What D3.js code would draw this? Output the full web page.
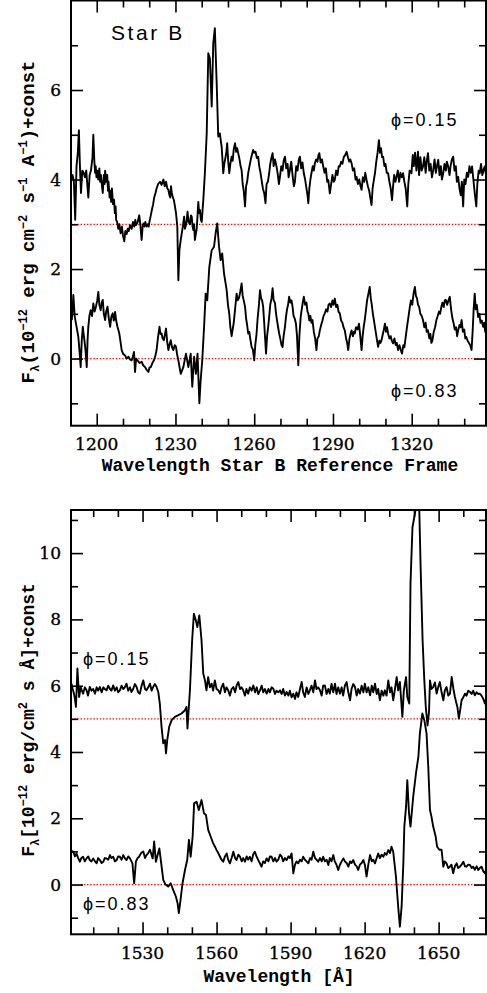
<!DOCTYPE html>
<html>
<head>
<meta charset="utf-8">
<script src="https://cdn.jsdelivr.net/npm/d3@7"></script>
<style>
  html, body { margin: 0; padding: 0; background: #fff; }
  svg { display: block; }
</style>
</head>
<body>
<svg id="chart" width="487" height="993"></svg>
<script>
// ---- Tick values --------------------------------------------------------
const topMajorX = [1200, 1230, 1260, 1290, 1320];
const topMinorX = [1210, 1220, 1240, 1250, 1270, 1280, 1300, 1310, 1330, 1340];
const topMajorY = [0, 2, 4, 6];
const topMinorY = [-1, 1, 3, 5, 7];
const botMajorX = [1530, 1560, 1590, 1620, 1650];
const botMinorX = [1510, 1520, 1540, 1550, 1570, 1580, 1600, 1610, 1630, 1640, 1660];
const botMajorY = [0, 2, 4, 6, 8, 10];
const botMinorY = [-1, 1, 3, 5, 7, 9, 11];

// zero levels of each offset spectrum (dotted red lines)
const topBaselines = [3, 0];
const botBaselines = [5, 0];

// ---- Spectra: [wavelength, flux + const] --------------------------------
// Star B, Lyα / N V region, phase 0.15 (shifted by +3)
const topPhase015 = [
  [1190.3,4.0],[1190.8,4.1],[1191.3,3.95],[1191.8,3.1],[1192.3,4.3],[1192.8,4.6],[1193.2,5.1],[1193.6,4.3],
  [1194.0,3.7],[1194.5,4.2],[1195.0,4.15],[1195.5,4.05],[1196.0,4.2],[1196.8,3.6],[1197.3,4.1],[1197.8,4.2],
  [1198.4,4.5],[1198.7,5.0],[1199.1,4.4],[1199.4,4.15],[1199.6,4.3],[1199.9,4.05],[1200.2,4.2],[1200.6,4.0],
  [1201.0,4.25],[1201.3,3.95],[1201.6,4.1],[1202.0,3.85],[1202.3,3.7],[1202.7,4.1],[1203.0,3.9],[1203.2,4.2],
  [1203.6,3.95],[1204.0,4.1],[1204.3,3.75],[1204.5,3.95],[1204.9,3.6],[1205.2,3.75],[1205.5,3.5],[1205.8,3.8],
  [1206.2,3.45],[1206.6,3.55],[1206.9,3.25],[1207.2,3.4],[1207.4,3.1],[1207.8,3.05],[1208.2,2.9],[1208.6,3.0],
  [1209.1,2.8],[1209.6,2.95],[1210.0,2.75],[1210.5,2.62],[1210.9,2.85],[1211.4,2.78],[1211.8,2.9],[1212.2,2.85],
  [1212.7,2.98],[1213.3,2.9],[1213.8,3.05],[1214.3,2.95],[1214.7,3.1],[1215.0,2.98],[1215.6,3.05],[1216.2,3.2],
  [1216.6,3.0],[1217.1,2.65],[1217.5,2.95],[1217.8,3.02],[1218.2,2.95],[1218.5,3.05],[1219.0,2.95],[1219.4,3.0],
  [1219.8,2.95],[1220.1,3.06],[1220.6,3.2],[1221.0,3.32],[1221.5,3.45],[1221.9,3.6],[1222.4,3.7],[1222.8,3.8],
  [1223.4,3.9],[1224.1,3.95],[1224.7,3.88],[1225.4,4.0],[1225.9,3.85],[1226.4,3.95],[1226.9,3.8],[1227.3,3.77],
  [1227.7,3.65],[1228.0,3.6],[1228.3,3.85],[1228.6,3.7],[1229.0,3.6],[1229.4,3.54],[1229.8,3.4],[1230.2,3.25],
  [1230.7,2.95],[1231.1,1.75],[1231.5,2.42],[1232.0,2.65],[1232.4,2.8],[1232.8,2.95],[1233.3,3.17],[1233.6,2.9],
  [1234.0,2.98],[1234.3,3.1],[1234.6,3.28],[1235.0,3.05],[1235.5,3.0],[1235.9,3.2],[1236.2,3.17],[1236.5,2.95],
  [1236.8,2.87],[1237.1,3.0],[1237.4,2.65],[1237.8,2.8],[1238.1,2.9],[1238.4,3.2],[1238.7,3.5],[1239.0,3.25],
  [1239.3,3.32],[1239.7,3.1],[1240.0,3.05],[1240.3,3.3],[1240.6,3.54],[1241.2,4.14],[1241.9,5.03],[1242.5,6.82],
  [1243.1,6.71],[1243.8,5.63],[1244.4,7.05],[1245.0,7.38],[1245.7,6.15],[1246.3,4.96],[1246.9,5.03],[1247.3,4.85],
  [1247.6,4.73],[1247.9,4.45],[1248.2,4.14],[1248.6,4.35],[1249.1,4.51],[1249.4,4.62],[1249.7,4.81],[1250.1,4.4],
  [1250.5,4.14],[1250.9,4.35],[1251.4,4.51],[1251.8,4.42],[1252.2,4.68],[1252.7,4.81],[1253.1,4.62],[1253.5,4.7],
  [1253.9,4.59],[1254.4,4.45],[1254.8,4.3],[1255.2,4.21],[1255.6,3.9],[1256.0,3.75],[1256.5,3.4],[1256.9,3.85],
  [1257.3,3.95],[1257.7,4.14],[1258.2,4.3],[1258.7,4.45],[1259.1,4.55],[1259.6,4.66],[1260.0,4.6],[1260.5,4.62],
  [1261.0,4.48],[1261.5,4.51],[1261.9,4.3],[1262.4,4.15],[1262.8,3.99],[1263.3,3.8],[1263.8,3.7],[1264.3,3.47],
  [1264.7,3.9],[1265.2,3.95],[1265.7,4.14],[1266.1,4.35],[1266.6,4.5],[1267.0,4.59],[1267.4,4.3],[1267.9,4.45],
  [1268.5,4.29],[1268.9,4.15],[1269.4,3.9],[1269.8,4.06],[1270.3,4.3],[1270.8,4.2],[1271.2,4.42],[1271.7,4.51],
  [1272.2,4.25],[1272.7,4.35],[1273.1,4.05],[1273.6,4.21],[1274.1,4.4],[1274.6,4.1],[1275.1,3.85],[1275.5,3.95],
  [1276.0,4.3],[1276.5,4.2],[1277.0,4.45],[1277.4,4.51],[1277.9,4.25],[1278.4,4.38],[1278.9,4.14],[1279.4,4.0],
  [1279.9,3.8],[1280.3,3.65],[1280.6,3.47],[1281.0,3.8],[1281.4,4.0],[1281.8,4.14],[1282.3,4.3],[1282.7,4.2],
  [1283.1,4.36],[1283.6,4.45],[1284.1,4.4],[1284.5,4.55],[1284.8,4.59],[1285.3,4.38],[1285.8,4.45],[1286.3,4.29],
  [1286.8,4.15],[1287.3,4.25],[1287.8,3.95],[1288.2,3.99],[1288.5,3.85],[1288.8,3.69],[1289.3,3.9],[1289.8,4.1],
  [1290.3,3.95],[1290.7,3.99],[1291.2,4.2],[1291.7,4.1],[1292.2,4.3],[1292.6,4.29],[1293.1,4.4],[1293.6,4.35],
  [1294.1,4.5],[1294.7,4.55],[1295.2,4.62],[1295.7,4.5],[1296.2,4.4],[1296.6,4.45],[1297.1,4.36],[1297.6,4.2],
  [1298.1,4.25],[1298.6,4.0],[1299.0,4.06],[1299.5,3.9],[1300.0,4.0],[1300.5,3.85],[1300.9,3.77],[1301.4,4.05],
  [1301.9,3.95],[1302.3,4.15],[1302.8,3.99],[1303.3,3.85],[1303.8,3.75],[1304.2,3.6],[1304.7,3.43],[1305.1,3.8],
  [1305.6,4.0],[1306.0,4.14],[1306.5,4.4],[1307.0,4.6],[1307.5,4.88],[1307.9,4.6],[1308.3,4.7],[1308.7,4.5],
  [1309.1,4.51],[1309.6,4.3],[1310.0,4.35],[1310.5,4.15],[1311.0,4.14],[1311.5,3.95],[1312.0,3.8],[1312.5,3.54],
  [1312.9,3.85],[1313.3,4.1],[1313.8,3.95],[1314.2,4.06],[1314.7,4.2],[1315.2,3.95],[1315.7,4.15],[1316.2,4.05],
  [1316.7,4.14],[1317.2,3.95],[1317.7,3.8],[1318.3,3.4],[1318.7,3.9],[1319.2,4.2],[1319.9,4.14],[1320.4,4.55],
  [1320.8,4.3],[1321.3,4.6],[1321.8,4.2],[1322.4,4.62],[1322.8,4.1],[1323.3,4.5],[1323.8,4.2],[1324.3,4.29],
  [1324.8,4.5],[1325.3,4.15],[1325.7,4.4],[1326.2,4.59],[1326.7,4.2],[1327.2,4.35],[1327.7,4.05],[1328.2,4.21],
  [1328.7,4.45],[1329.2,4.15],[1329.6,4.3],[1330.1,4.44],[1330.6,4.1],[1331.1,4.3],[1331.5,4.0],[1332.0,4.14],
  [1332.5,4.35],[1333.0,4.2],[1333.4,4.4],[1333.9,4.29],[1334.4,4.1],[1334.8,4.3],[1335.3,4.45],[1335.8,4.51],
  [1336.3,4.2],[1336.8,4.3],[1337.2,3.95],[1337.7,4.06],[1338.2,3.8],[1338.7,3.65],[1339.1,3.95],[1339.6,3.4],
  [1340.0,4.0],[1340.5,3.9],[1341.0,4.15],[1341.5,4.06],[1342.0,4.3],[1342.5,4.15],[1343.0,4.29],[1343.5,4.0],
  [1344.0,3.7],[1344.6,3.4],[1345.0,3.9],[1345.5,4.2],[1345.9,4.14],[1346.4,4.35],[1346.9,4.1],[1347.3,4.2],
  [1347.8,4.29],[1348.3,4.1]
];

// Star B, Lyα / N V region, phase 0.83
const topPhase083 = [
  [1190.5,0.86],[1190.8,1.1],[1191.1,1.42],[1191.6,0.95],[1192.1,0.78],[1192.5,0.65],[1193.0,0.48],[1193.4,0.2],
  [1193.9,-0.19],[1194.3,0.4],[1194.7,0.71],[1195.0,0.55],[1195.3,0.41],[1195.7,0.2],[1196.2,-0.19],[1196.5,0.4],
  [1196.8,0.71],[1197.2,0.95],[1197.7,1.08],[1198.2,0.95],[1198.7,1.23],[1199.2,1.05],[1199.7,1.16],[1200.2,1.3],
  [1200.6,1.49],[1201.0,1.2],[1201.5,1.08],[1201.9,1.25],[1202.3,1.31],[1202.7,1.0],[1203.2,0.86],[1203.6,1.05],
  [1204.1,1.16],[1204.6,0.9],[1205.1,0.71],[1205.6,0.95],[1206.1,1.01],[1206.5,0.85],[1207.0,1.04],[1207.4,0.85],
  [1207.9,0.71],[1208.2,0.65],[1208.6,0.56],[1209.0,0.4],[1209.5,0.19],[1210.1,0.1],[1210.8,0.07],[1211.4,0.0],
  [1212.1,0.04],[1212.7,-0.02],[1213.3,-0.04],[1213.8,0.05],[1214.2,0.15],[1214.6,-0.3],[1215.0,0.0],[1215.5,-0.04],
  [1216.3,-0.1],[1217.1,-0.07],[1217.7,-0.15],[1218.4,-0.19],[1219.0,-0.25],[1219.7,-0.3],[1220.1,-0.2],[1220.6,-0.19],
  [1221.2,-0.1],[1221.8,-0.04],[1222.3,0.05],[1222.8,0.19],[1223.3,0.45],[1223.9,0.71],[1224.3,0.55],[1224.7,0.56],
  [1225.1,0.45],[1225.6,0.41],[1226.0,0.55],[1226.4,0.67],[1226.8,0.4],[1227.3,0.19],[1227.7,0.3],[1228.2,0.41],
  [1228.7,0.25],[1229.2,0.19],[1229.7,0.3],[1230.2,0.26],[1230.6,0.1],[1231.1,-0.04],[1232.0,-0.34],[1233.0,-0.19],
  [1234.0,0.11],[1234.9,-0.19],[1235.8,0.11],[1236.4,-0.63],[1237.1,0.04],[1237.8,-0.34],[1238.4,0.11],[1239.1,-1.0],
  [1239.6,-0.48],[1240.2,-0.04],[1240.9,0.71],[1241.5,1.45],[1242.1,1.3],[1242.9,2.05],[1243.8,2.42],[1244.7,2.5],
  [1245.3,2.8],[1245.9,3.02],[1246.6,2.5],[1247.2,2.2],[1247.8,2.35],[1248.5,1.9],[1249.5,1.53],[1250.0,1.2],
  [1250.5,1.0],[1250.9,0.7],[1251.4,0.5],[1251.8,0.65],[1252.2,0.8],[1252.7,1.1],[1253.3,1.45],[1253.7,1.3],
  [1254.2,1.35],[1254.7,1.5],[1255.2,1.68],[1255.6,1.4],[1256.0,1.3],[1256.5,1.16],[1256.9,0.9],[1257.3,0.75],
  [1257.7,0.56],[1258.1,0.6],[1258.6,0.4],[1259.0,0.26],[1259.5,0.2],[1260.0,-0.04],[1260.4,0.3],[1260.9,0.56],
  [1261.3,0.9],[1261.8,1.2],[1262.2,1.53],[1262.6,1.35],[1263.0,1.3],[1263.4,1.16],[1263.8,0.8],[1264.1,0.5],
  [1264.5,0.11],[1264.9,0.5],[1265.3,0.7],[1265.7,0.93],[1266.1,1.2],[1266.6,1.35],[1267.0,1.57],[1267.4,1.3],
  [1267.9,1.25],[1268.3,1.01],[1268.7,0.85],[1269.1,0.7],[1269.5,0.56],[1269.9,0.45],[1270.4,0.3],[1270.8,0.26],
  [1271.2,0.5],[1271.7,0.7],[1272.1,0.93],[1272.5,1.1],[1272.9,1.2],[1273.3,1.38],[1273.8,1.25],[1274.2,1.3],
  [1274.6,1.16],[1275.0,0.95],[1275.4,0.9],[1275.9,0.78],[1276.3,0.5],[1276.8,-0.15],[1277.2,0.5],[1277.7,0.93],
  [1278.1,1.1],[1278.5,1.25],[1278.9,1.38],[1279.4,1.2],[1279.9,1.25],[1280.3,1.05],[1280.6,1.01],[1281.0,0.85],
  [1281.4,0.95],[1281.8,0.8],[1282.2,0.86],[1282.7,0.6],[1283.2,0.45],[1283.7,0.19],[1284.1,0.45],[1284.6,0.5],
  [1285.0,0.63],[1285.5,0.75],[1286.0,0.85],[1286.4,0.95],[1286.9,1.01],[1287.4,1.1],[1287.9,1.05],[1288.3,1.2],
  [1288.8,1.23],[1289.3,1.15],[1289.8,1.3],[1290.2,1.2],[1290.7,1.34],[1291.2,1.15],[1291.7,1.2],[1292.1,1.05],
  [1292.6,1.01],[1293.1,0.85],[1293.6,0.8],[1294.0,0.7],[1294.5,0.63],[1295.0,0.45],[1295.4,0.35],[1295.8,0.19],
  [1296.3,0.45],[1296.7,0.55],[1297.1,0.63],[1297.6,0.5],[1298.0,0.6],[1298.3,0.56],[1298.8,0.7],[1299.4,0.65],
  [1299.9,0.78],[1300.4,0.5],[1300.9,0.19],[1301.3,0.5],[1301.7,0.7],[1302.1,0.86],[1302.6,1.1],[1303.0,1.3],
  [1303.5,1.45],[1304.0,1.6],[1304.4,1.35],[1304.8,1.2],[1305.2,1.0],[1305.6,0.86],[1306.0,0.7],[1306.4,0.55],
  [1306.8,0.4],[1307.2,0.26],[1307.7,0.4],[1308.1,0.35],[1308.5,0.41],[1309.0,0.55],[1309.4,0.65],[1309.8,0.78],
  [1310.2,0.6],[1310.6,0.7],[1311.0,0.56],[1311.5,0.45],[1312.0,0.5],[1312.4,0.4],[1312.9,0.34],[1313.4,0.45],
  [1313.9,0.3],[1314.3,0.35],[1314.8,0.19],[1315.3,0.3],[1315.8,0.2],[1316.3,0.11],[1316.8,0.3],[1317.2,0.25],
  [1317.7,0.48],[1318.2,0.7],[1318.8,0.95],[1319.3,1.16],[1319.7,1.3],[1320.2,1.2],[1320.7,1.45],[1321.2,1.6],
  [1321.6,1.4],[1322.0,1.35],[1322.4,1.2],[1322.8,1.16],[1323.3,1.0],[1323.8,0.95],[1324.3,0.86],[1324.8,0.7],
  [1325.3,0.8],[1325.7,0.6],[1326.2,0.63],[1326.7,0.45],[1327.1,0.55],[1327.5,0.35],[1327.9,0.41],[1328.4,0.6],
  [1328.9,0.7],[1329.4,0.86],[1329.9,0.95],[1330.4,1.05],[1330.8,1.0],[1331.3,1.16],[1331.7,1.25],[1332.2,1.15],
  [1332.6,1.3],[1333.0,1.31],[1333.5,1.2],[1334.0,1.3],[1334.5,1.38],[1335.0,1.1],[1335.5,0.9],[1336.0,0.78],
  [1336.4,0.65],[1336.9,0.7],[1337.3,0.5],[1337.7,0.63],[1338.2,0.75],[1338.6,0.7],[1339.0,0.86],[1339.5,0.6],
  [1340.0,0.65],[1340.4,0.45],[1340.8,0.48],[1341.3,0.4],[1341.8,0.35],[1342.3,0.3],[1342.8,0.19],[1343.2,0.6],
  [1343.6,1.1],[1344.0,1.45],[1344.4,1.1],[1344.8,1.2],[1345.3,0.93],[1345.8,1.0],[1346.2,0.8],[1346.7,0.85],
  [1347.2,0.71],[1347.6,0.8],[1348.0,0.6],[1348.4,0.56]
];

// C IV / He II region, phase 0.15 (shifted by +5)
const botPhase015 = [
  [1501.2,6.06],[1501.7,5.9],[1502.2,5.76],[1502.6,5.6],[1503.0,5.36],[1503.3,5.9],[1503.6,6.52],[1504.0,6.0],
  [1504.3,5.66],[1504.6,5.8],[1504.9,5.96],[1505.4,5.85],[1505.9,5.76],[1506.6,5.95],[1507.3,5.86],[1507.9,5.7],
  [1508.6,5.96],[1509.3,5.85],[1510.0,5.9],[1510.7,5.76],[1511.4,5.95],[1512.0,5.85],[1512.7,5.96],[1513.4,5.8],
  [1514.1,5.95],[1514.7,5.9],[1515.4,5.86],[1516.1,6.0],[1516.8,5.9],[1517.4,5.85],[1518.1,6.01],[1518.8,5.85],
  [1519.5,5.95],[1520.1,5.8],[1520.8,5.86],[1521.5,6.0],[1522.2,5.9],[1522.8,5.95],[1523.5,6.06],[1524.2,5.85],
  [1524.9,5.95],[1525.5,5.81],[1526.2,5.9],[1526.9,6.05],[1527.6,5.96],[1528.2,5.8],[1528.9,5.76],[1529.6,6.0],
  [1530.3,6.16],[1531.0,5.9],[1531.6,5.86],[1532.3,5.95],[1533.0,6.06],[1533.7,5.85],[1534.3,5.96],[1535.0,6.05],
  [1535.7,5.96],[1536.4,5.8],[1537.0,5.46],[1537.7,4.76],[1538.4,4.26],[1539.1,4.36],[1539.5,3.96],[1540.0,4.36],
  [1540.8,4.76],[1541.8,4.96],[1543.1,5.06],[1544.5,5.11],[1545.8,5.16],[1547.2,5.26],[1547.8,5.36],[1548.2,4.71],
  [1549.2,5.86],[1550.1,7.37],[1550.8,8.17],[1551.6,7.97],[1552.2,7.77],[1553.0,8.12],[1553.9,7.37],[1554.6,6.37],
  [1555.3,6.16],[1555.9,5.86],[1556.6,6.26],[1557.3,5.95],[1558.0,6.06],[1558.6,5.85],[1559.3,6.16],[1560.0,5.9],
  [1560.7,5.86],[1561.4,5.76],[1562.0,5.95],[1562.7,6.06],[1563.4,5.8],[1564.0,5.95],[1564.7,5.86],[1565.4,5.7],
  [1566.1,5.9],[1566.8,5.96],[1567.5,5.8],[1568.1,6.0],[1568.8,6.11],[1569.5,5.9],[1570.1,5.95],[1570.8,5.86],
  [1571.5,5.7],[1572.1,5.9],[1572.8,5.76],[1573.5,5.95],[1574.2,5.85],[1574.9,6.01],[1575.6,5.8],[1576.3,5.95],
  [1576.9,5.75],[1577.6,5.86],[1578.3,6.0],[1578.9,5.8],[1579.6,5.9],[1580.3,5.76],[1581.0,5.9],[1581.6,5.8],
  [1582.3,5.95],[1583.0,5.91],[1583.7,5.75],[1584.3,5.85],[1585.0,5.8],[1585.7,5.86],[1586.4,5.75],[1587.0,5.9],
  [1587.7,5.7],[1588.4,5.81],[1589.1,5.7],[1589.7,5.85],[1590.4,5.65],[1591.1,5.76],[1591.8,5.6],[1592.4,5.8],
  [1593.1,5.66],[1593.8,5.9],[1594.5,6.11],[1595.1,5.8],[1595.8,5.66],[1596.5,5.95],[1597.2,5.75],[1597.8,5.86],
  [1598.5,6.0],[1599.2,5.8],[1599.9,6.16],[1600.5,5.9],[1601.2,5.95],[1601.9,5.86],[1602.6,5.7],[1603.2,6.0],
  [1603.9,6.01],[1604.6,5.75],[1605.3,5.9],[1605.9,5.76],[1606.6,6.05],[1607.3,5.8],[1608.0,6.06],[1608.6,5.75],
  [1609.3,5.95],[1610.0,5.76],[1610.7,5.95],[1611.3,5.7],[1612.0,6.0],[1612.7,6.11],[1613.4,5.8],[1614.1,5.56],
  [1614.7,5.9],[1615.4,6.05],[1616.1,5.96],[1616.8,5.7],[1617.4,5.9],[1618.1,5.76],[1618.8,6.0],[1619.5,5.8],
  [1620.1,6.06],[1620.8,5.8],[1621.5,5.95],[1622.2,5.71],[1622.9,6.0],[1623.5,5.8],[1624.2,6.06],[1624.9,5.75],
  [1625.5,5.9],[1626.2,5.56],[1626.9,5.85],[1627.6,5.7],[1628.2,5.86],[1628.9,5.7],[1629.6,6.16],[1630.3,5.8],
  [1630.9,5.95],[1631.6,5.56],[1632.3,5.9],[1633.0,6.26],[1633.6,5.86],[1634.3,6.11],[1635.3,5.06],[1635.9,5.86],
  [1636.8,6.26],[1637.3,5.66],[1638.1,5.46],[1638.6,9.08],[1639.4,10.78],[1640.4,11.19],[1641.3,11.6],[1642.1,11.5],
  [1642.7,9.58],[1643.5,7.37],[1644.2,6.16],[1644.8,5.36],[1645.5,4.8],[1646.1,5.2],[1646.5,6.16],[1647.1,5.9],
  [1647.8,5.96],[1648.5,6.1],[1649.2,5.76],[1649.8,5.95],[1650.5,6.11],[1651.2,5.8],[1651.9,5.56],[1652.5,5.85],
  [1653.2,5.96],[1653.9,5.7],[1654.6,5.76],[1655.3,6.26],[1656.0,5.9],[1656.6,5.66],[1657.1,5.5],[1657.6,5.36],
  [1658.2,5.01],[1658.8,5.3],[1659.3,5.56],[1660.0,5.65],[1660.7,5.76],[1661.3,5.7],[1662.0,5.85],[1662.7,5.81],
  [1663.4,5.75],[1664.0,5.85],[1664.7,5.71],[1665.4,5.8],[1666.1,5.75],[1666.7,5.76],[1667.4,5.7],[1668.1,5.6],
  [1668.8,5.46],[1669.2,5.6]
];

// C IV / He II region, phase 0.83
const botPhase083 = [
  [1500.8,1.09],[1501.4,1.0],[1501.9,0.99],[1502.6,0.85],[1503.2,0.94],[1503.9,0.8],[1504.6,0.69],[1505.2,0.8],
  [1505.9,0.84],[1506.6,0.7],[1507.3,0.79],[1508.0,0.85],[1508.6,0.74],[1509.3,0.7],[1510.0,0.79],[1510.7,0.7],
  [1511.4,0.64],[1512.0,0.8],[1512.7,0.74],[1513.4,0.65],[1514.1,0.69],[1514.7,0.8],[1515.4,0.79],[1516.1,0.75],
  [1516.8,0.89],[1517.4,0.8],[1518.1,0.84],[1518.8,0.7],[1519.5,0.74],[1520.1,0.85],[1520.8,0.84],[1521.5,0.75],
  [1522.2,0.89],[1522.8,0.8],[1523.5,0.74],[1524.2,0.85],[1524.9,0.79],[1525.9,0.64],[1526.6,0.04],[1527.3,0.69],
  [1528.0,0.8],[1528.6,0.84],[1529.4,0.95],[1530.3,1.0],[1531.0,0.8],[1531.6,0.89],[1532.3,0.95],[1533.0,1.05],
  [1534.1,0.79],[1534.7,1.3],[1535.4,0.69],[1536.1,0.89],[1536.8,1.09],[1537.4,0.74],[1538.4,0.14],[1539.3,0.0],
  [1540.4,-0.06],[1541.4,0.04],[1542.4,-0.16],[1543.5,-0.36],[1544.2,-0.56],[1544.7,-0.86],[1545.4,-0.46],[1546.2,0.04],
  [1547.2,0.44],[1548.1,0.74],[1548.8,1.35],[1549.5,0.84],[1550.3,1.45],[1550.9,2.45],[1551.9,2.5],[1552.8,2.25],
  [1553.9,2.55],[1554.9,2.15],[1555.7,2.1],[1556.6,1.65],[1557.6,1.45],[1558.6,1.25],[1559.3,1.15],[1560.0,1.04],
  [1560.7,0.95],[1561.4,0.84],[1562.0,0.75],[1562.7,0.69],[1563.4,0.85],[1564.1,0.94],[1564.7,0.75],[1565.4,0.64],
  [1566.1,0.8],[1566.8,0.99],[1567.5,0.8],[1568.1,0.74],[1568.8,0.9],[1569.5,0.84],[1570.2,0.7],[1570.8,0.8],
  [1571.5,0.69],[1572.2,0.85],[1572.8,0.75],[1573.5,0.84],[1574.2,0.7],[1574.8,0.9],[1575.5,0.99],[1576.2,0.85],
  [1576.9,0.74],[1577.5,0.65],[1578.2,0.54],[1578.9,0.7],[1579.6,0.65],[1580.3,0.79],[1581.0,0.7],[1581.6,0.85],
  [1582.3,0.84],[1583.0,0.7],[1583.7,0.8],[1584.3,0.69],[1585.0,0.75],[1585.7,0.9],[1586.4,0.84],[1587.0,0.7],
  [1587.7,0.8],[1588.4,0.74],[1589.1,0.85],[1589.7,0.8],[1590.4,0.94],[1591.1,0.34],[1591.8,0.6],[1592.4,0.7],
  [1593.1,0.64],[1593.8,0.75],[1594.5,0.7],[1595.1,0.84],[1595.8,0.75],[1596.5,0.7],[1597.2,0.64],[1597.9,0.8],
  [1598.5,0.75],[1599.2,0.99],[1599.9,0.8],[1600.5,0.75],[1601.2,0.69],[1601.9,0.8],[1602.6,0.7],[1603.2,0.84],
  [1603.9,0.7],[1604.6,0.75],[1605.3,0.59],[1605.9,0.8],[1606.6,0.7],[1607.3,0.89],[1607.9,0.7],[1608.6,0.6],
  [1609.3,0.44],[1610.0,0.6],[1610.7,0.7],[1611.4,0.79],[1612.0,0.7],[1612.7,0.65],[1613.4,0.54],[1614.1,0.7],
  [1614.7,0.65],[1615.4,0.74],[1616.1,0.6],[1616.8,0.55],[1617.4,0.44],[1618.1,0.6],[1618.8,0.65],[1619.5,0.74],
  [1620.1,0.6],[1620.8,0.24],[1621.5,0.6],[1622.2,0.89],[1622.9,0.7],[1623.5,0.75],[1624.2,0.64],[1624.9,0.8],
  [1625.5,0.94],[1626.2,0.8],[1626.9,0.9],[1627.6,0.84],[1628.2,0.95],[1628.9,0.9],[1629.6,1.04],[1630.3,0.95],
  [1630.9,1.14],[1631.6,0.99],[1632.7,0.24],[1633.6,-0.66],[1634.3,-1.27],[1635.0,-0.66],[1635.7,0.64],[1636.1,1.75],
  [1636.8,2.35],[1637.3,3.15],[1638.0,2.15],[1638.6,1.75],[1639.7,2.65],[1640.8,3.35],[1641.8,3.86],[1642.4,4.56],
  [1643.4,5.16],[1644.2,4.96],[1645.1,4.56],[1645.8,3.55],[1646.5,2.25],[1647.1,2.05],[1647.8,1.75],[1648.8,1.45],
  [1649.4,1.14],[1650.3,1.05],[1651.2,1.05],[1651.9,0.54],[1652.5,0.7],[1653.2,0.64],[1653.9,0.5],[1654.6,0.54],
  [1655.2,0.6],[1655.9,0.34],[1656.6,0.55],[1657.3,0.64],[1657.9,0.5],[1658.6,0.54],[1659.3,0.6],[1660.0,0.69],
  [1660.7,0.55],[1661.3,0.54],[1662.0,0.6],[1662.7,0.59],[1663.4,0.5],[1664.0,0.54],[1664.7,0.45],[1665.4,0.55],
  [1666.1,0.44],[1666.7,0.5],[1667.4,0.54],[1668.1,0.4],[1668.8,0.34],[1669.2,0.45]
];

// ---- Drawing ------------------------------------------------------------
const svg = d3.select("#chart");
svg.append("rect").attr("width", 487).attr("height", 993).attr("fill", "#fff");

const SERIF = "'DejaVu Serif', serif";
const MONO = "'Liberation Mono', monospace";
const SANS = "'Liberation Sans', Arial, sans-serif";

function drawPanel(cfg) {
  const x = d3.scaleLinear().domain(cfg.xDomain).range([cfg.left, cfg.right]);
  const y = d3.scaleLinear().domain(cfg.yDomain).range([cfg.bottom, cfg.top]);
  const g = svg.append("g");

  const clipId = "clip-" + cfg.id;
  svg.append("clipPath").attr("id", clipId)
    .append("rect")
    .attr("x", cfg.left).attr("y", cfg.top)
    .attr("width", cfg.right - cfg.left).attr("height", cfg.bottom - cfg.top);

  // dotted zero levels
  g.selectAll("line.base").data(cfg.baselines).join("line")
    .attr("class", "base")
    .attr("x1", cfg.left).attr("x2", cfg.right)
    .attr("y1", d => y(d)).attr("y2", d => y(d))
    .attr("stroke", "#ff0000").attr("stroke-width", 1.3)
    .attr("stroke-dasharray", "1.4,1.8");

  // spectra
  const line = d3.line().x(d => x(d[0])).y(d => y(d[1]));
  g.append("g").attr("clip-path", `url(#${clipId})`)
    .selectAll("path").data(cfg.series).join("path")
    .attr("d", line)
    .attr("fill", "none").attr("stroke", "#000")
    .attr("stroke-width", 1.9).attr("stroke-linejoin", "round");

  // ticks on all four sides, pointing inward
  const tickStyle = sel => {
    sel.select(".domain").remove();
    sel.selectAll("line").attr("stroke", "#000").attr("stroke-width", 1.6);
    sel.selectAll("text").remove();
  };
  const addAxis = (axis, tx, ty) =>
    g.append("g").attr("transform", `translate(${tx},${ty})`).call(axis).call(tickStyle);

  addAxis(d3.axisBottom(x).tickValues(cfg.majorX).tickSize(-12), 0, cfg.bottom);
  addAxis(d3.axisBottom(x).tickValues(cfg.minorX).tickSize(-7), 0, cfg.bottom);
  addAxis(d3.axisTop(x).tickValues(cfg.majorX).tickSize(-12), 0, cfg.top);
  addAxis(d3.axisTop(x).tickValues(cfg.minorX).tickSize(-7), 0, cfg.top);
  addAxis(d3.axisLeft(y).tickValues(cfg.majorY).tickSize(-12), cfg.left, 0);
  addAxis(d3.axisLeft(y).tickValues(cfg.minorY).tickSize(-7), cfg.left, 0);
  addAxis(d3.axisRight(y).tickValues(cfg.majorY).tickSize(-12), cfg.right, 0);
  addAxis(d3.axisRight(y).tickValues(cfg.minorY).tickSize(-7), cfg.right, 0);

  // frame
  g.append("rect")
    .attr("x", cfg.left).attr("y", cfg.top)
    .attr("width", cfg.right - cfg.left).attr("height", cfg.bottom - cfg.top)
    .attr("fill", "none").attr("stroke", "#000").attr("stroke-width", 2);

  // tick labels
  g.selectAll("text.xl").data(cfg.majorX).join("text")
    .attr("class", "xl")
    .attr("x", d => x(d)).attr("y", cfg.xLabelBaseline)
    .attr("text-anchor", "middle")
    .attr("font-family", SERIF).attr("font-size", 17)
    .attr("stroke", "#000").attr("stroke-width", 0.35)
    .text(d => d);
  g.selectAll("text.yl").data(cfg.majorY).join("text")
    .attr("class", "yl")
    .attr("x", cfg.left - 10).attr("y", d => y(d) + 6)
    .attr("text-anchor", "end")
    .attr("font-family", SERIF).attr("font-size", 17)
    .attr("stroke", "#000").attr("stroke-width", 0.35)
    .text(d => d);

  // axis titles
  g.append("text")
    .attr("x", cfg.xTitleX).attr("y", cfg.xTitleY)
    .attr("text-anchor", "middle")
    .attr("font-family", MONO).attr("font-size", 18).attr("font-weight", "bold")
    .text(cfg.xTitle);

  const fs = cfg.yTitleSize;
  const yt = g.append("text")
    .attr("transform", `translate(${cfg.yTitleX},${cfg.yTitleY}) rotate(-90)`)
    .attr("text-anchor", "middle")
    .attr("font-family", MONO).attr("font-size", fs).attr("font-weight", "bold");
  let shift = 0;
  cfg.yTitle.forEach(([txt, kind]) => {
    const target = kind === "sup" ? -7 : kind === "sub" ? 5 : 0;
    yt.append("tspan")
      .attr("dy", target - shift)
      .attr("font-size", kind ? Math.round(fs * 0.65) : fs)
      .text(txt);
    shift = target;
  });

  // annotations
  cfg.notes.forEach(n => {
    g.append("text")
      .attr("x", n.x).attr("y", n.y)
      .attr("font-family", SANS).attr("font-size", n.size || 18)
      .attr("letter-spacing", n.ls || 2)
      .text(n.text);
  });
}

drawPanel({
  id: "top",
  xDomain: [1190.2, 1348.3], yDomain: [-1.5, 8.0],
  left: 71, right: 486, top: 0.5, bottom: 425.7,
  majorX: topMajorX, minorX: topMinorX, majorY: topMajorY, minorY: topMinorY,
  baselines: topBaselines,
  series: [topPhase015, topPhase083],
  xLabelBaseline: 450,
  xTitle: "Wavelength Star B Reference Frame", xTitleX: 280, xTitleY: 471,
  yTitle: [["F"], ["λ", "sub"], ["(10"], ["−12", "sup"], [" erg cm"], ["−2", "sup"],
           [" s"], ["−1", "sup"], [" A"], ["−1", "sup"], [")+const"]],
  yTitleSize: 19, yTitleX: 34, yTitleY: 222,
  notes: [
    { text: "Star B", x: 111, y: 40, size: 21, ls: 2.6 },
    { text: "ϕ=0.15", x: 391, y: 126 },
    { text: "ϕ=0.83", x: 391, y: 397 }
  ]
});

drawPanel({
  id: "bottom",
  xDomain: [1501, 1669.2], yDomain: [-1.5, 11.3],
  left: 71, right: 486, top: 510, bottom: 934.3,
  majorX: botMajorX, minorX: botMinorX, majorY: botMajorY, minorY: botMinorY,
  baselines: botBaselines,
  series: [botPhase015, botPhase083],
  xLabelBaseline: 959,
  xTitle: "Wavelength [Å]", xTitleX: 279, xTitleY: 982,
  yTitle: [["F"], ["λ", "sub"], ["[10"], ["−12", "sup"], [" erg/cm"], ["2", "sup"],
           [" s Å]+const"]],
  yTitleSize: 18, yTitleX: 34, yTitleY: 720,
  notes: [
    { text: "ϕ=0.15", x: 83, y: 665 },
    { text: "ϕ=0.83", x: 83, y: 910 }
  ]
});
</script>
</body>
</html>
